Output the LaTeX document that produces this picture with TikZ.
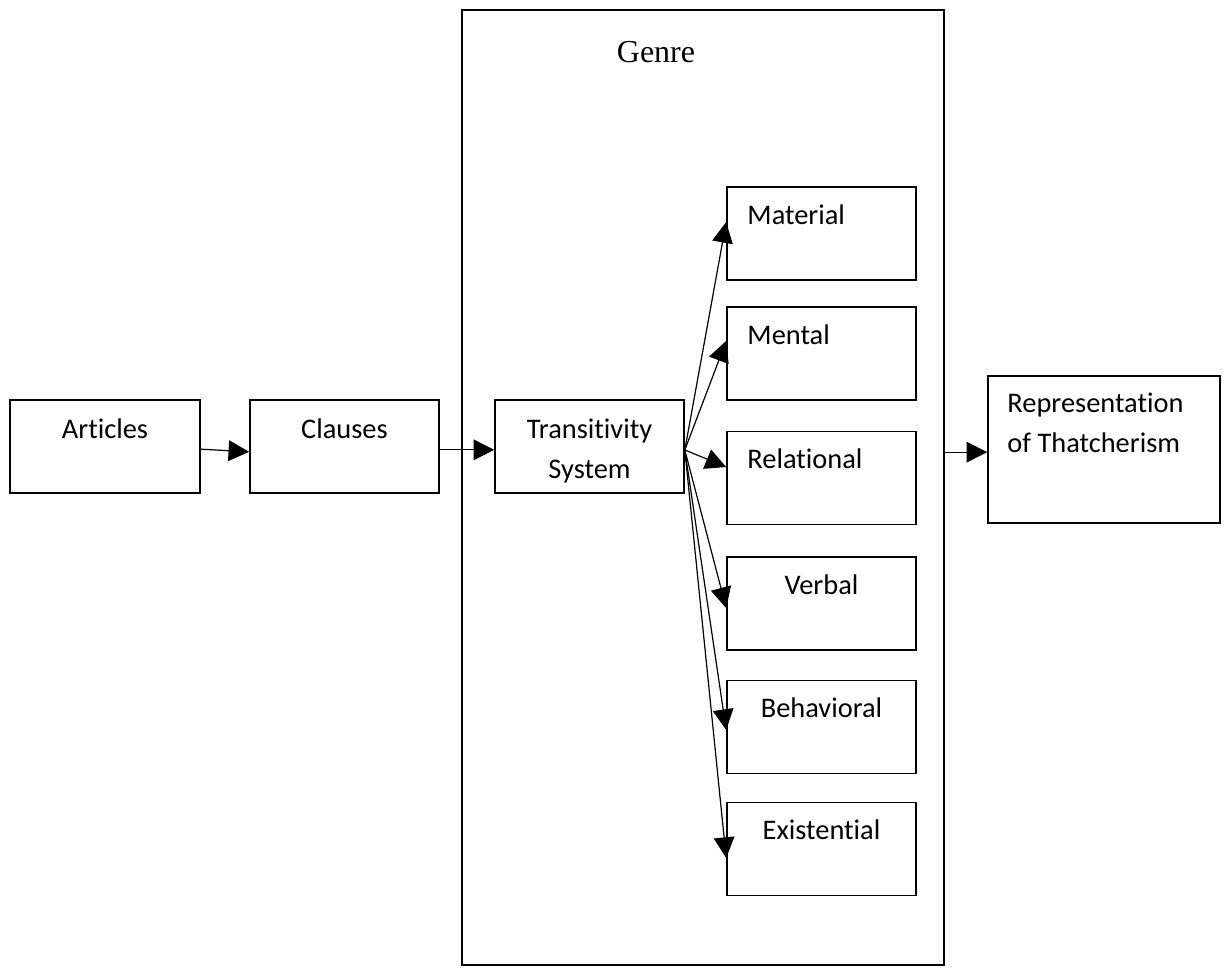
\documentclass[tikz,border=0pt]{standalone}
\usepackage{fontspec}
\setmainfont{Carlito}[Ligatures=NoCommon]
\newfontfamily\genrefont{Liberation Serif}
\usetikzlibrary{arrows.meta}
\begin{document}
\begin{tikzpicture}[x=0.75pt,y=-0.75pt,
  box/.style={draw, line width=1.2pt, inner sep=0pt, minimum height=70pt},
  wbox/.style={box, minimum width=141.75pt},
  lab/.style={font=\fontsize{21.3}{29.6}\selectfont, inner sep=0pt},
  arr/.style={line width=0.9pt, -{Triangle[length=15.5pt,width=15.5pt]}}
]
\useasboundingbox (0,0) rectangle (1227,967);
% Genre container
\node[draw, line width=1.2pt, minimum width=361.5pt, minimum height=716.25pt, inner sep=0pt] (genre) at (703,487.5) {};
\node[font=\genrefont\fontsize{24}{28}\selectfont, inner sep=0pt, anchor=base] (genrelab) at (656,62) {Genre};
% left chain
\node[wbox, minimum width=142.5pt, label={[lab,anchor=base,yshift=-29.25pt]north:Articles}] (articles) at (105,446.5) {};
\node[wbox, label={[lab,anchor=base,yshift=-29.25pt]north:Clauses}] (clauses) at (344.5,446.5) {};
\node[wbox, label={[lab,anchor=base,align=center,yshift=-59.25pt]north:Transitivity\\System}] (trans) at (589.5,446.5) {};
% processes
\node[wbox, label={[lab,anchor=base west,xshift=15.75pt,yshift=-28.5pt]north west:Material}] (material) at (821.5,233.5) {};
\node[wbox, label={[lab,anchor=base west,xshift=15.75pt,yshift=-28.5pt]north west:Mental}] (mental) at (821.5,353.5) {};
\node[wbox, label={[lab,anchor=base west,xshift=15.75pt,yshift=-28.5pt]north west:Relational}] (relational) at (821.5,478) {};
\node[wbox, label={[lab,anchor=base,yshift=-28.5pt]north:Verbal}] (verbal) at (821.5,603.5) {};
\node[wbox, label={[lab,anchor=base,yshift=-28.5pt]north:Behavioral}] (behavioral) at (821.5,727) {};
\node[wbox, label={[lab,anchor=base,yshift=-28.5pt]north:Existential}] (existential) at (821.5,849) {};
% result
\node[box, minimum width=174pt, minimum height=110.25pt, label={[lab,anchor=base west,align=left,xshift=15pt,yshift=-57.75pt]north west:Representation\\of Thatcherism}] (rep) at (1104,449.5) {};
% arrows
\draw[arr] ([yshift=-2pt]articles.east) -- ([yshift=-4pt]clauses.west);
\draw[arr] ([yshift=-2.5pt]clauses.east) -- ([yshift=-2.5pt]trans.west);
\draw[arr] ([yshift=-2pt]rep.west -| genre.east) -- ([yshift=-2pt]rep.west);
\coordinate (fan) at ([yshift=-2.6pt]trans.east);
\draw[arr] (fan) -- ([yshift=8.6pt]material.west);
\draw[arr] (fan) -- ([yshift=9.4pt]mental.west);
\draw[arr] (fan) -- ([yshift=8.25pt]relational.west);
\draw[arr] (fan) -- ([yshift=-3.4pt]verbal.west);
\draw[arr] (fan) -- ([yshift=-2.25pt]behavioral.west);
\draw[arr] (fan) -- ([yshift=-6.75pt]existential.west);
\end{tikzpicture}
\end{document}
